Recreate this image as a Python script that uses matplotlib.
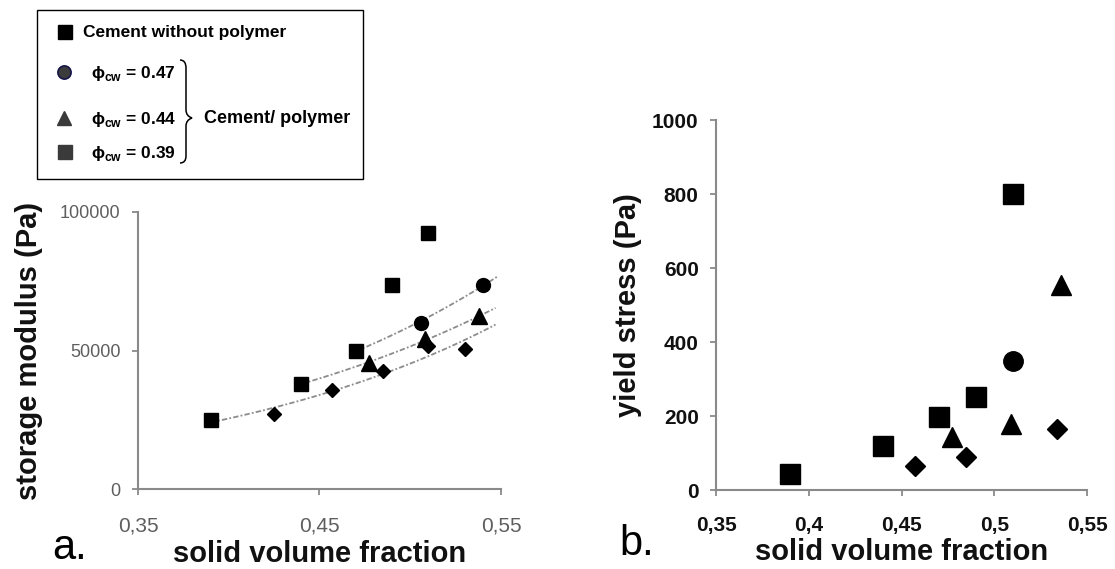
import numpy as np
import matplotlib
matplotlib.use("Agg")
import matplotlib.pyplot as plt
from matplotlib.path import Path
from matplotlib.patches import PathPatch, Rectangle

plt.rcParams['font.family'] = ['Liberation Sans', 'DejaVu Sans']
plt.rcParams['mathtext.fontset'] = 'custom'
plt.rcParams['mathtext.rm'] = 'Liberation Sans'
plt.rcParams['mathtext.bf'] = 'Liberation Sans:bold'

# ---- data (a) storage modulus ----
sq_a_x = [0.39, 0.44, 0.47, 0.49, 0.51]
sq_a_y = [25000, 38000, 50000, 73500, 92300]
circ_a_x = [0.506, 0.540]
circ_a_y = [60000, 73800]
tri_a_x = [0.477, 0.508, 0.538]
tri_a_y = [45500, 54000, 62300]
dia_a_x = [0.425, 0.457, 0.485, 0.510, 0.530]
dia_a_y = [27000, 35800, 42500, 51500, 50600]

# ---- data (b) yield stress ----
sq_b_x = [0.39, 0.44, 0.47, 0.49, 0.51]
sq_b_y = [43, 120, 197, 251, 800]
circ_b_x = [0.51]
circ_b_y = [350]
tri_b_x = [0.477, 0.509, 0.536]
tri_b_y = [143, 179, 553]
dia_b_x = [0.4575, 0.485, 0.534]
dia_b_y = [66, 90, 165]

xt_a = [0.35, 0.45, 0.55]
xt_a_lab = ["0,35", "0,45", "0,55"]
yt_a = [0, 50000, 100000]
xt_b = [0.35, 0.4, 0.45, 0.5, 0.55]
xt_b_lab = ["0,35", "0,4", "0,45", "0,5", "0,55"]
yt_b = [0, 200, 400, 600, 800, 1000]

spine_c = '#8a8a8a'

fig = plt.figure(figsize=(11.15, 5.69), dpi=100)

# ---------- panel a ----------
ax1 = fig.add_axes([138/1115, 1-489/569, 363/1115, 277/569])
# exponential trend lines: each cement/polymer series starts from the plain cement point
groups = [
    ([sq_a_x[2]] + circ_a_x, [sq_a_y[2]] + circ_a_y, 0.548),
    ([sq_a_x[1]] + tri_a_x, [sq_a_y[1]] + tri_a_y, 0.547),
    ([sq_a_x[0]] + dia_a_x, [sq_a_y[0]] + dia_a_y, 0.547),
]
for gx, gy, xend in groups:
    b, a = np.polyfit(gx, np.log(gy), 1)
    xx = np.linspace(gx[0], xend, 60)
    ax1.plot(xx, np.exp(a + b*xx), color='#8c8c8c', lw=1.3,
             linestyle=(0, (3, 1.2, 1, 1.2)), zorder=1)
ax1.plot(sq_a_x, sq_a_y, 's', ms=10.5, color='black', zorder=3)
ax1.plot(circ_a_x, circ_a_y, 'o', ms=10, color='black', zorder=3)
ax1.plot(tri_a_x, tri_a_y, '^', ms=11, color='black', zorder=3)
ax1.plot(dia_a_x, dia_a_y, 'D', ms=7.5, color='black', zorder=3)
ax1.set_xlim(0.35, 0.55)
ax1.set_ylim(0, 100000)
ax1.set_xticks(xt_a, xt_a_lab)
ax1.set_yticks(yt_a, [str(v) for v in yt_a])
ax1.tick_params(axis='both', colors=spine_c, length=4.5, width=1.3, labelcolor='#5e5e5e')
ax1.tick_params(axis='x', labelsize=15, pad=15)
ax1.tick_params(axis='y', labelsize=13, pad=8)
for s in ['top', 'right']:
    ax1.spines[s].set_visible(False)
for s in ['left', 'bottom']:
    ax1.spines[s].set_color(spine_c)
    ax1.spines[s].set_linewidth(1.5)
ax1.set_xlabel("solid volume fraction", fontsize=21, fontweight='bold', color='#111111')
ax1.xaxis.label.set_va('baseline')
ax1.xaxis.set_label_coords(0.5, (489-562)/277)
ax1.set_ylabel("storage modulus (Pa)", fontsize=21, fontweight='bold', color='#111111', va='center')
ax1.yaxis.set_label_coords((29-138)/363, 0.5)

# ---------- panel b ----------
ax2 = fig.add_axes([716/1115, 1-490/569, 371/1115, 370/569])
ax2.plot(sq_b_x, sq_b_y, 's', ms=14, color='black', zorder=3)
ax2.plot(circ_b_x, circ_b_y, 'o', ms=14, color='black', zorder=3)
ax2.plot(tri_b_x, tri_b_y, '^', ms=15, color='black', zorder=3)
ax2.plot(dia_b_x, dia_b_y, 'D', ms=10, color='black', zorder=3)
ax2.set_xlim(0.35, 0.55)
ax2.set_ylim(0, 1000)
ax2.set_xticks(xt_b, xt_b_lab)
ax2.set_yticks(yt_b, [str(v) for v in yt_b])
ax2.tick_params(axis='both', colors=spine_c, length=4.5, width=1.3, labelcolor='#111111')
ax2.tick_params(axis='x', labelsize=15, pad=14)
ax2.tick_params(axis='y', labelsize=15, pad=8)
for lab in ax2.get_xticklabels() + ax2.get_yticklabels():
    lab.set_fontweight('bold')
for s in ['top', 'right']:
    ax2.spines[s].set_visible(False)
for s in ['left', 'bottom']:
    ax2.spines[s].set_color(spine_c)
    ax2.spines[s].set_linewidth(1.5)
ax2.set_xlabel("solid volume fraction", fontsize=21, fontweight='bold', color='#111111')
ax2.xaxis.label.set_va('baseline')
ax2.xaxis.set_label_coords(0.5, (490-560)/370)
ax2.set_ylabel("yield stress (Pa)", fontsize=21, fontweight='bold', color='#111111', va='center')
ax2.yaxis.set_label_coords((628-716)/371, 0.5)

# ---------- overlay: panel letters and legend box (pixel coords) ----------
ov = fig.add_axes([0, 0, 1, 1], zorder=5)
ov.set_xlim(0, 1115)
ov.set_ylim(569, 0)
ov.axis('off')

ov.text(52, 559, "a.", fontsize=30, va='baseline', ha='left')
ov.text(619, 555, "b.", fontsize=30, va='baseline', ha='left')

ov.add_patch(Rectangle((37, 10), 326, 169, facecolor='white', edgecolor='black', lw=1.0))
ov.plot(65, 32, 's', ms=10, color='black')
ov.plot(64, 72, 'o', ms=9.5, markerfacecolor='#3c3c3c', markeredgecolor='#15154a', markeredgewidth=1.2)
ov.plot(64, 118, '^', ms=10, color='#3a3a3a')
ov.plot(65, 152, 's', ms=9.5, color='#3a3a3a')
kw = dict(fontsize=12.5, fontweight='bold', va='center', ha='left')
ov.text(83, 32, "Cement without polymer", **kw)
ov.text(91, 73, "\u03d5" + r"$_{\mathbf{cw}}$ = 0.47", **kw)
ov.text(91, 119, "\u03d5" + r"$_{\mathbf{cw}}$ = 0.44", **kw)
ov.text(91, 153, "\u03d5" + r"$_{\mathbf{cw}}$ = 0.39", **kw)
ov.text(204, 118, "Cement/ polymer", fontsize=13, fontweight='bold', va='center', ha='left')

# curly brace
verts = [(180, 60), (186, 60), (186, 68), (186, 110), (186, 116), (192, 118),
         (186, 120), (186, 126), (186, 156), (186, 163), (180, 163)]
codes = [Path.MOVETO, Path.CURVE3, Path.CURVE3, Path.LINETO, Path.CURVE3, Path.CURVE3,
         Path.CURVE3, Path.CURVE3, Path.LINETO, Path.CURVE3, Path.CURVE3]
ov.add_patch(PathPatch(Path(verts, codes), facecolor='none', edgecolor='black', lw=1.1))

fig.savefig("out.png", dpi=100)
